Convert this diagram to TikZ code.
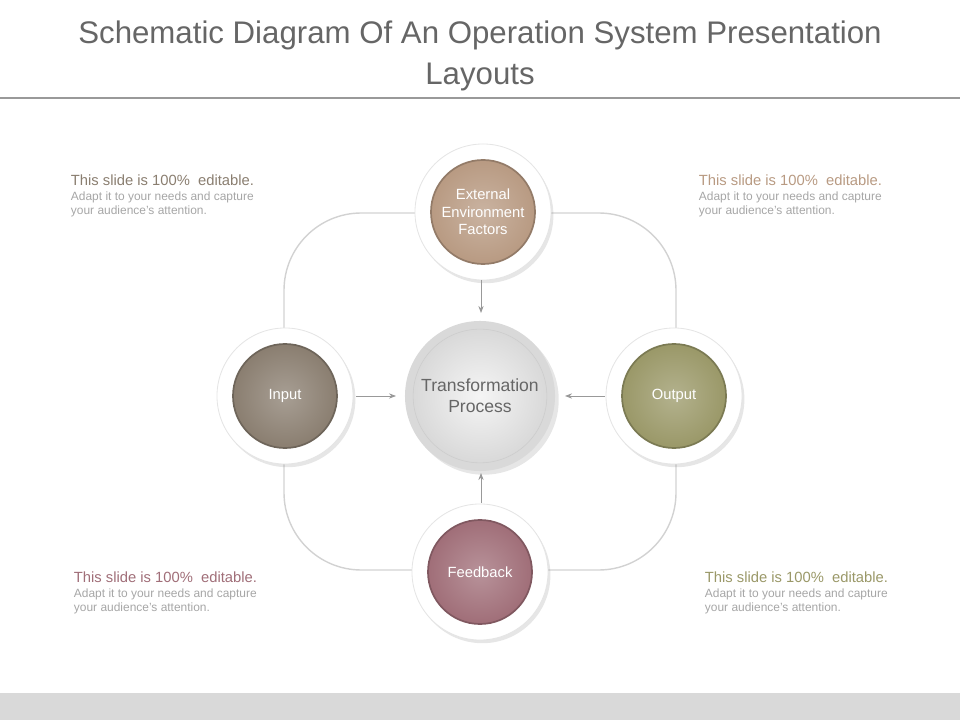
\documentclass[tikz,border=0pt]{standalone}
\usepackage{fontspec}
\setmainfont{Liberation Sans}
\usetikzlibrary{shadows,arrows.meta}
\definecolor{cext}{HTML}{B89A82}
\definecolor{cin}{HTML}{8A7E70}
\definecolor{cout}{HTML}{9A9868}
\definecolor{cfb}{HTML}{A06E78}
\definecolor{tgray}{HTML}{666666}
\begin{document}
\begin{tikzpicture}[x=0.025cm,y=-0.025cm,
  ring/.style={circle,fill=white,minimum size=3.4cm,draw=gray!20,line width=0.6pt,drop shadow={opacity=0.2,shadow xshift=0.6mm,shadow yshift=-0.8mm}},
  core/.style={circle,minimum size=2.6cm,text=white,font=\fontsize{10.5}{12.5}\selectfont,align=center,inner sep=0pt},
  arr/.style={-{Stealth[length=5pt]},draw=gray!80,line width=0.6pt},
  head/.style={anchor=north west,font=\fontsize{10.5}{12.5}\selectfont},
  body/.style={anchor=north west,text=gray!70,font=\fontsize{8.5}{10}\selectfont,align=left}]
\useasboundingbox (0,0) rectangle (960,720);
\fill[gray!30] (0,693) rectangle (960,720);
\node[text=tgray,font=\fontsize{22.2}{29}\selectfont,align=center] (title) at (480,56) {Schematic Diagram Of An Operation System Presentation\\Layouts};
\draw[gray!80,line width=1.2pt] (0,98) -- (960,98);
\draw[gray!35,line width=1pt,rounded corners=55] (284,213) rectangle (676,570);
% nodes
\node[ring] (extR) at (483,212) {};
\node[core,draw=cext!80!black,line width=1.2pt,inner color=cext!75!white,outer color=cext] (ext) at (483,212) {External\\Environment\\Factors};
\node[ring] (inR) at (285,396) {};
\node[core,draw=cin!80!black,line width=1.2pt,inner color=cin!75!white,outer color=cin] (in) at (285,396) {Input};
\node[ring] (outR) at (674,396) {};
\node[core,draw=cout!80!black,line width=1.2pt,inner color=cout!75!white,outer color=cout] (out) at (674,396) {Output};
\node[ring] (fbR) at (480,572) {};
\node[core,draw=cfb!80!black,line width=1.2pt,inner color=cfb!75!white,outer color=cfb] (fb) at (480,572) {Feedback};
\node[circle,minimum size=3.75cm,fill=gray!30,drop shadow={opacity=0.2}] (tpR) at (480,396) {};
\node[circle,minimum size=3.2cm,inner color=gray!8,outer color=gray!30,draw=gray!40,text=tgray,align=center,font=\fontsize{12.5}{15}\selectfont] (tp) at (480,396) {Transformation\\Process};
\coordinate (a1) at (481,280); \coordinate (a1e) at (481,313);
\coordinate (a2) at (356,396); \coordinate (a2e) at (396,396);
\coordinate (a3) at (605,396); \coordinate (a3e) at (565,396);
\coordinate (a4) at (481,503); \coordinate (a4e) at (481,473);
\draw[arr] (a1) -- (a1e);
\draw[arr] (a2) -- (a2e);
\draw[arr] (a3) -- (a3e);
\draw[arr] (a4) -- (a4e);
% texts
\node[head,text=cin] (h1) at (66,170) {This slide is 100\%\ \ editable.};
\node[body] (b1) at (66,187) {Adapt it to your needs and capture\\your audience's attention.};
\node[head,text=cext] (h2) at (694,170) {This slide is 100\%\ \ editable.};
\node[body] (b2) at (694,187) {Adapt it to your needs and capture\\your audience's attention.};
\node[head,text=cfb] (h3) at (69,567) {This slide is 100\%\ \ editable.};
\node[body] (b3) at (69,584) {Adapt it to your needs and capture\\your audience's attention.};
\node[head,text=cout] (h4) at (700,567) {This slide is 100\%\ \ editable.};
\node[body] (b4) at (700,584) {Adapt it to your needs and capture\\your audience's attention.};
\end{tikzpicture}
\end{document}
